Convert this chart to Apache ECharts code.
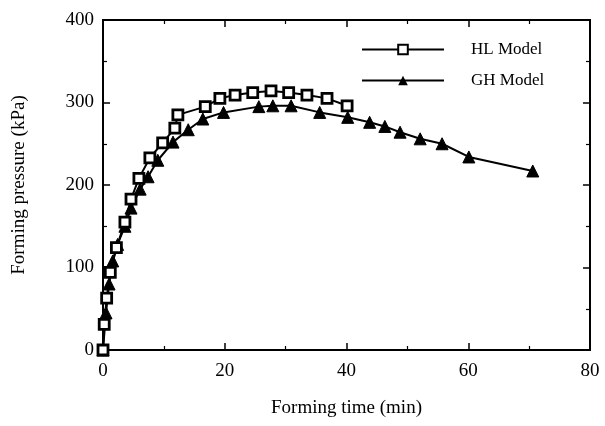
<!DOCTYPE html>
<html>
<head>
<meta charset="utf-8">
<script src="https://cdn.jsdelivr.net/npm/echarts@6/dist/echarts.min.js"></script>
<style>html,body{margin:0;padding:0;background:#fff;}#c{width:605px;height:426px;}</style>
</head>
<body>
<div id="c"></div>
<script>
var hlTime = [0, 0.2, 0.6, 1.2, 2.2, 3.6, 4.6, 5.9, 7.7, 9.8, 11.8, 12.3, 16.8, 19.2, 21.7, 24.6, 27.6, 30.5, 33.5, 36.8, 40.1];
var hlPressure = [0, 31, 63, 94, 124, 155, 183, 208, 233, 251, 269, 285, 295, 305, 309, 312, 314, 312, 309, 305, 296];
var ghTime = [0, 0.5, 1.0, 1.6, 2.4, 3.6, 4.6, 6.1, 7.4, 9.0, 11.5, 14.0, 16.4, 19.8, 25.6, 27.9, 30.9, 35.6, 40.2, 43.8, 46.3, 48.8, 52.1, 55.7, 60.1, 70.6];
var ghPressure = [0, 45, 80, 108, 128, 150, 172, 195, 210, 230, 252, 267, 280, 288, 295, 296, 296, 288, 282, 276, 271, 264, 256, 250, 234, 217];
var seriesNames = ['HL Model', 'GH Model'];
var xTicks = [0, 20, 40, 60, 80];
var yTicks = [0, 100, 200, 300, 400];

function pairs(xs, ys) { return xs.map(function (x, i) { return [x, ys[i]]; }); }

var font = 'Liberation Serif, Times New Roman, serif';
var chart = echarts.init(document.getElementById('c'), null, { renderer: 'canvas' });
function axis(extra) {
  var base = {
    type: 'value',
    axisLine: { show: true, onZero: false, lineStyle: { color: '#000', width: 2 } },
    axisTick: { show: true, inside: true, length: 7, lineStyle: { color: '#000', width: 1.5 } },
    minorTick: { show: true, splitNumber: 2, length: 4, lineStyle: { color: '#000', width: 1.2 } },
    splitLine: { show: false },
    minorSplitLine: { show: false }
  };
  for (var k in extra) base[k] = extra[k];
  return base;
}
chart.setOption({
  animation: false,
  backgroundColor: '#fff',
  grid: { left: 103, right: 15, top: 20, bottom: 76, show: true, borderColor: '#000', borderWidth: 2, backgroundColor: 'transparent' },
  legend: {
    left: 356, top: 36, orient: 'vertical', itemWidth: 82, itemHeight: 12, itemGap: 14,
    data: seriesNames,
    textStyle: { fontFamily: font, fontSize: 17, color: '#000', padding: [0, 0, 0, 22] }
  },
  xAxis: [
    axis({
      min: xTicks[0], max: xTicks[xTicks.length - 1], interval: 20, position: 'bottom',
      name: 'Forming time (min)', nameLocation: 'middle', nameGap: 49,
      nameTextStyle: { fontFamily: font, fontSize: 19, color: '#000' },
      axisLabel: { fontFamily: font, fontSize: 19, color: '#000', margin: 12 }
    }),
    axis({
      position: 'top', min: 0, max: 80, interval: 20,
      axisLabel: { show: false }
    })
  ],
  yAxis: [
    axis({
      min: yTicks[0], max: yTicks[yTicks.length - 1], interval: 100, position: 'left',
      name: 'Forming pressure (kPa)', nameLocation: 'middle', nameGap: 74,
      nameTextStyle: { fontFamily: font, fontSize: 19, color: '#000' },
      axisLabel: { fontFamily: font, fontSize: 19, color: '#000', margin: 9 }
    }),
    axis({
      position: 'right', min: 0, max: 400, interval: 100,
      axisLabel: { show: false }
    })
  ],
  series: [
    {
      name: seriesNames[0], type: 'line', xAxisIndex: 0, yAxisIndex: 0,
      data: pairs(hlTime, hlPressure),
      symbol: 'rect', symbolSize: 10, showAllSymbol: true, z: 3,
      lineStyle: { color: '#000', width: 2 },
      itemStyle: { color: '#fff', borderColor: '#000', borderWidth: 2.8 }
    },
    {
      name: seriesNames[1], type: 'line', xAxisIndex: 0, yAxisIndex: 0,
      data: pairs(ghTime, ghPressure),
      symbol: 'triangle', symbolSize: 12, showAllSymbol: true, z: 2,
      lineStyle: { color: '#000', width: 2 },
      itemStyle: { color: '#000', borderColor: '#000' }
    }
  ]
});
</script>
</body>
</html>
